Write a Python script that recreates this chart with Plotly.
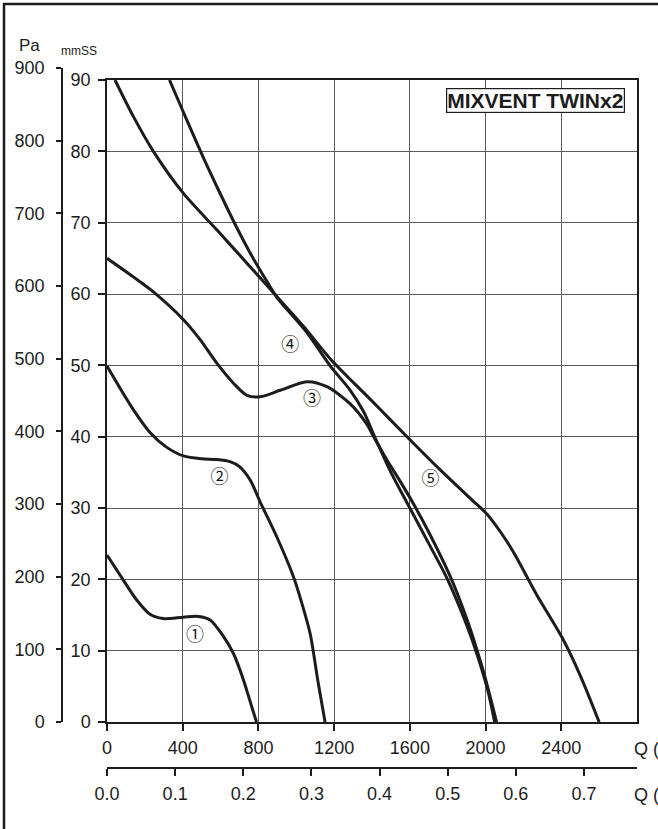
import plotly.graph_objects as go

# ---------------- data ----------------
q1 = [0, 86, 157, 227, 296, 404, 483, 545, 615, 668, 721, 765, 790]
p1 = [23.4, 19.9, 17.1, 15.1, 14.5, 14.7, 14.8, 14.3, 12.0, 9.6, 5.9, 2.1, 0]

q2 = [0, 69, 139, 227, 316, 404, 500, 580, 650, 700, 757, 810, 898, 986, 1030, 1074, 1115, 1152]
p2 = [49.9, 46.8, 43.8, 40.6, 38.5, 37.3, 36.9, 36.8, 36.5, 35.8, 33.9, 30.8, 25.9, 20.3, 16.6, 12.3, 5.6, 0]

q3 = [0, 139, 245, 404, 492, 580, 668, 739, 810, 915, 1056, 1162, 1285, 1374, 1409,
      1480, 1550, 1621, 1700, 1815, 1900, 1950, 2000, 2058]
p3 = [65.0, 62.4, 60.3, 56.4, 53.6, 50.3, 47.5, 45.8, 45.6, 46.5, 47.7, 47.0, 44.6, 41.7, 40.0,
      36.7, 33.7, 30.5, 26.6, 20.3, 14.5, 10.5, 6.0, 0]

q4 = [330, 418, 506, 594, 682, 770, 858, 898, 1056, 1180, 1285, 1356, 1409,
      1500, 1600, 1700, 1797, 1900, 1956, 2010, 2048]
p4 = [90, 84.6, 79.3, 74.3, 69.5, 65.1, 61.2, 59.5, 54.6, 49.9, 46.5, 43.5, 40.3,
      35.0, 30.0, 25.0, 20.1, 13.6, 9.4, 4.6, 0]

q5 = [42, 139, 245, 404, 580, 757, 898, 1056, 1180, 1400, 1603, 1762, 1929, 2009,
      2080, 2150, 2273, 2405, 2502, 2600]
p5 = [90, 84.9, 80.0, 74.1, 69.0, 63.8, 59.6, 54.9, 50.9, 45.0, 39.5, 35.3, 31.1, 29.1,
      26.6, 23.7, 17.7, 11.8, 6.4, 0]

curve_q = [q1, q2, q3, q4, q5]
curve_p = [p1, p2, p3, p4, p5]

label_text = ["\u2460", "\u2461", "\u2462", "\u2463", "\u2464"]
label_q = [465, 594, 1083, 968, 1709]
label_p = [12.0, 34.2, 45.1, 52.6, 33.9]

x_ticks_m3h = [0, 400, 800, 1200, 1600, 2000, 2400]
x_ticks_m3s = [0.0, 0.1, 0.2, 0.3, 0.4, 0.5, 0.6, 0.7]
y_ticks_mmss = [0, 10, 20, 30, 40, 50, 60, 70, 80, 90]
y_ticks_pa = [0, 100, 200, 300, 400, 500, 600, 700, 800, 900]

q_max_m3h = 2800
mmss_max = 90
pa_max = 900
title_text = "MIXVENT TWINx2"

# ---------------- layout geometry ----------------
W, H = 658, 829
ml, mr, mt, mb = 50, 21, 68, 50
pw, ph = W - ml - mr, H - mt - mb
px_left, px_right = 107, 637
px_top, px_bottom = 80, 722
px_pa_top, px_pa_x = 68, 62
px_x2 = 768


def fx(px):
    return (px - ml) / pw


def fy(py):
    return (H - mb - py) / ph


xdom = [fx(px_left), fx(px_right)]
ydom = [fy(px_bottom), fy(px_top)]
y2dom = [fy(px_bottom), fy(px_pa_top)]

FONT = "Liberation Sans, Arial, sans-serif"
INK = "#1c1c1c"
GRID = "#5a5a5a"

fig = go.Figure()
for q, p in zip(curve_q, curve_p):
    fig.add_trace(go.Scatter(x=q, y=p, mode="lines", xaxis="x", yaxis="y",
                             line=dict(color=INK, width=3, shape="spline", smoothing=0.8),
                             hoverinfo="skip", showlegend=False))
fig.add_trace(go.Scatter(x=label_q, y=label_p, mode="text", text=label_text,
                         textfont=dict(family="Noto Sans CJK JP, DejaVu Sans", size=18, color=INK),
                         xaxis="x", yaxis="y", showlegend=False, hoverinfo="skip"))
# empty traces so the secondary axes are drawn
fig.add_trace(go.Scatter(x=[], y=[], xaxis="x2", yaxis="y", showlegend=False))
fig.add_trace(go.Scatter(x=[], y=[], xaxis="x3", yaxis="y2", showlegend=False))

tickfont = dict(family=FONT, size=18, color=INK)

fig.update_layout(
    width=W, height=H,
    margin=dict(l=ml, r=mr, t=mt, b=mb),
    paper_bgcolor="white", plot_bgcolor="rgba(0,0,0,0)",
    showlegend=False,
    xaxis=dict(domain=xdom, range=[0, q_max_m3h], anchor="y",
               tickvals=x_ticks_m3h, ticktext=[str(v) for v in x_ticks_m3h],
               ticks="outside", ticklen=7, tickwidth=1.5, tickcolor=INK,
               showline=True, linecolor=INK, linewidth=1.5, mirror=True,
               showgrid=True, gridcolor=GRID, gridwidth=1, zeroline=False,
               tickfont=tickfont, ticklabelstandoff=2),
    xaxis2=dict(overlaying="x", anchor="free", position=fy(px_x2), side="bottom",
                domain=xdom, range=[0, q_max_m3h / 3600],
                tickvals=x_ticks_m3s, ticktext=["%.1f" % v for v in x_ticks_m3s],
                ticks="outside", ticklen=7, tickwidth=1.5, tickcolor=INK,
                showline=True, linecolor=INK, linewidth=1.5,
                showgrid=False, zeroline=False, tickfont=tickfont, ticklabelstandoff=3),
    xaxis3=dict(domain=xdom, range=[0, 1], anchor="y2", visible=False),
    yaxis=dict(domain=ydom, range=[0, mmss_max], anchor="x",
               tickvals=y_ticks_mmss, ticktext=[str(v) for v in y_ticks_mmss],
               ticks="outside", ticklen=7, tickwidth=1.5, tickcolor=INK,
               showline=True, linecolor=INK, linewidth=1.5, mirror=True,
               showgrid=True, gridcolor=GRID, gridwidth=1, zeroline=False,
               tickfont=tickfont, ticklabelstandoff=4),
    yaxis2=dict(domain=y2dom, range=[0, pa_max], anchor="free", position=fx(px_pa_x),
                side="left",
                tickvals=y_ticks_pa, ticktext=[str(v) for v in y_ticks_pa],
                ticks="outside", ticklen=5, tickwidth=1.5, tickcolor=INK,
                showline=True, linecolor=INK, linewidth=1.5,
                showgrid=False, zeroline=False, tickfont=tickfont, ticklabelstandoff=8),
    annotations=[
        dict(text=title_text, xref="paper", yref="paper", x=fx(535.5), y=fy(100.5),
             xanchor="center", yanchor="middle", showarrow=False,
             font=dict(family=FONT, size=21, color=INK, weight="bold"),
             bgcolor="white", bordercolor=INK, borderwidth=1.2, borderpad=0),
        dict(text="Pa", xref="paper", yref="paper", x=fx(29), y=fy(45),
             xanchor="center", yanchor="middle", showarrow=False,
             font=dict(family=FONT, size=17, color=INK)),
        dict(text="mmSS", xref="paper", yref="paper", x=fx(79), y=fy(51),
             xanchor="center", yanchor="middle", showarrow=False,
             font=dict(family=FONT, size=12, color=INK)),
        dict(text="Q (m³/h)", xref="paper", yref="paper", x=fx(632), y=fy(749),
             xanchor="left", yanchor="middle", showarrow=False,
             font=dict(family=FONT, size=18, color=INK)),
        dict(text="Q (m³/s)", xref="paper", yref="paper", x=fx(632), y=fy(795),
             xanchor="left", yanchor="middle", showarrow=False,
             font=dict(family=FONT, size=18, color=INK)),
    ],
    shapes=[
        dict(type="rect", xref="paper", yref="paper",
             x0=fx(4), x1=fx(W + 40), y0=fy(H + 40), y1=fy(4),
             line=dict(color=INK, width=2.5), fillcolor="rgba(0,0,0,0)", layer="above"),
    ],
)

fig.write_html("out.html", config={"displayModeBar": False},
               post_script="document.body.style.margin='0';")
